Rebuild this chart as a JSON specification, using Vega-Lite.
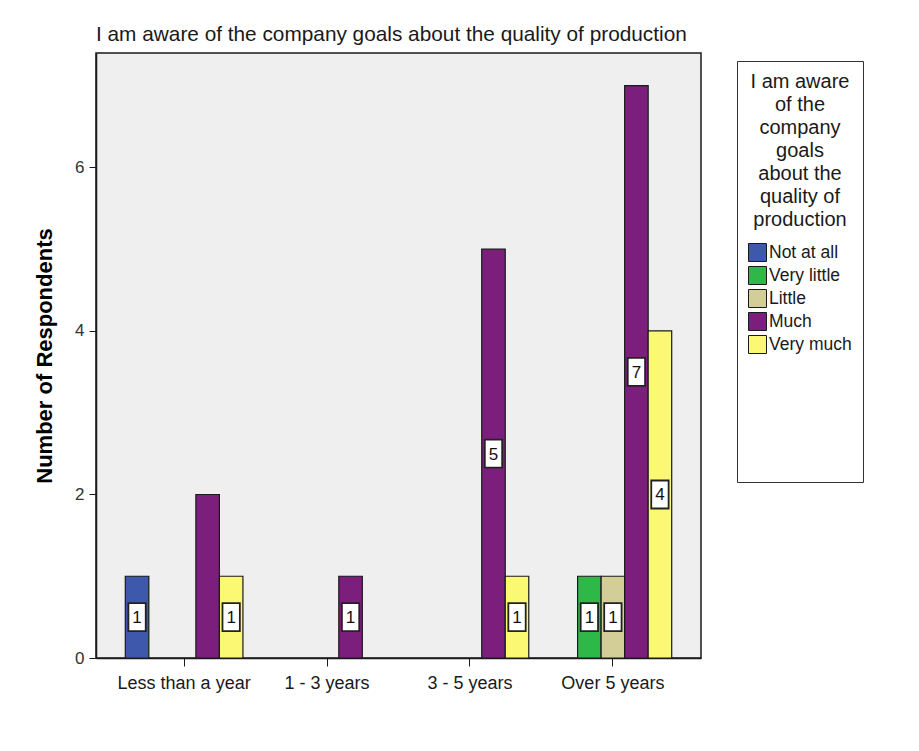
{
  "$schema": "https://vega.github.io/schema/vega-lite/v6.json",
  "autosize": {"type": "none"},
  "padding": {"left": 96, "top": 53, "right": 218, "bottom": 93},
  "width": 605,
  "height": 605,
  "background": "white",
  "title": {
    "text": "I am aware of the company goals about the quality of production",
    "anchor": "start",
    "frame": "group",
    "baseline": "alphabetic",
    "offset": 11,
    "dy": 20,
    "font": "Liberation Sans",
    "fontSize": 20.8,
    "fontWeight": "normal",
    "color": "#1a1a1a"
  },
  "config": {
    "font": "Liberation Sans",
    "view": {"fill": "#efefef", "stroke": "#1a1a1a", "strokeWidth": 1.5}
  },
  "data": {
    "values": [
      {"tenure": "Less than a year", "level": "Not at all", "count": 1},
      {"tenure": "Less than a year", "level": "Much", "count": 2},
      {"tenure": "Less than a year", "level": "Very much", "count": 1},
      {"tenure": "1 - 3 years", "level": "Much", "count": 1},
      {"tenure": "3 - 5 years", "level": "Much", "count": 5},
      {"tenure": "3 - 5 years", "level": "Very much", "count": 1},
      {"tenure": "Over 5 years", "level": "Very little", "count": 1},
      {"tenure": "Over 5 years", "level": "Little", "count": 1},
      {"tenure": "Over 5 years", "level": "Much", "count": 7},
      {"tenure": "Over 5 years", "level": "Very much", "count": 4}
    ]
  },
  "encoding": {
    "x": {
      "field": "tenure",
      "type": "nominal",
      "sort": ["Less than a year", "1 - 3 years", "3 - 5 years", "Over 5 years"],
      "scale": {"paddingInner": 0.177, "paddingOuter": 0.205},
      "axis": {
        "title": null,
        "labelAngle": 0,
        "labelFontSize": 18,
        "labelColor": "#1a1a1a",
        "labelPadding": 8,
        "tickSize": 8,
        "tickColor": "#1a1a1a",
        "domainColor": "#1a1a1a",
        "domainWidth": 1.5
      }
    },
    "xOffset": {
      "field": "level",
      "type": "nominal",
      "scale": {
        "domain": ["Not at all", "Very little", "Little", "Much", "Very much"],
        "paddingInner": 0,
        "paddingOuter": 0
      }
    }
  },
  "layer": [
    {
      "mark": {"type": "bar", "strokeWidth": 1.2},
      "encoding": {
        "y": {
          "field": "count",
          "type": "quantitative",
          "scale": {"domain": [0, 7.4], "nice": false},
          "axis": {
            "title": "Number of Respondents",
            "titleFontSize": 22,
            "titleFontWeight": "bold",
            "titleColor": "#000",
            "titlePadding": 18,
            "values": [0, 2, 4, 6],
            "grid": false,
            "labelFontSize": 17,
            "labelColor": "#333",
            "labelPadding": 5,
            "tickSize": 7,
            "tickColor": "#1a1a1a",
            "domainColor": "#1a1a1a",
            "domainWidth": 1.5
          }
        },
        "stroke": {
          "field": "level",
          "type": "nominal",
          "scale": {
            "domain": ["Not at all", "Very little", "Little", "Much", "Very much", "spacer1", "spacer2", "spacer3", "spacer4", "spacer5"],
            "range": ["#1a1a1a", "#1a1a1a", "#1a1a1a", "#1a1a1a", "#1a1a1a", "transparent", "transparent", "transparent", "transparent", "transparent"]
          }
        },
        "color": {
          "field": "level",
          "type": "nominal",
          "scale": {
            "domain": ["Not at all", "Very little", "Little", "Much", "Very much", "spacer1", "spacer2", "spacer3", "spacer4", "spacer5"],
            "range": ["#3e58ac", "#2eb848", "#d3ce97", "#7c1f7c", "#fbf873", "transparent", "transparent", "transparent", "transparent", "transparent"]
          },
          "legend": {
            "orient": "none",
            "legendX": 641,
            "legendY": 8,
            "title": ["I am aware", "of the", "company", "goals", "about the", "quality of", "production"],
            "titleFontSize": 20,
            "titleFontWeight": "normal",
            "titleColor": "#1a1a1a",
            "titleLineHeight": 23,
            "titleAlign": "center",
            "titleAnchor": "middle",
            "titlePadding": 13,
            "labelFontSize": 17.5,
            "labelColor": "#1a1a1a",
            "labelOffset": 2,
            "labelExpr": "indexof(['Not at all','Very little','Little','Much','Very much'], datum.label) >= 0 ? datum.label : ''",
            "symbolType": "square",
            "symbolSize": 324,
            "symbolStrokeWidth": 1,
            "rowPadding": 0,
            "padding": 11,
            "strokeColor": "#333",
            "fillColor": "white"
          }
        }
      }
    },
    {
      "transform": [
        {"filter": "!(datum.tenure === 'Less than a year' && datum.level === 'Much')"}
      ],
      "mark": {
        "type": "point",
        "shape": "M-0.62,-1L0.62,-1L0.62,1L-0.62,1Z",
        "size": 784,
        "filled": true,
        "fill": "white",
        "fillOpacity": 1,
        "stroke": "#222",
        "strokeWidth": 1.8,
        "opacity": 1
      },
      "encoding": {
        "y": {
          "field": "count",
          "type": "quantitative",
          "scale": {"domain": [0, 14.8], "nice": false},
          "axis": null
        }
      }
    },
    {
      "transform": [
        {"filter": "!(datum.tenure === 'Less than a year' && datum.level === 'Much')"}
      ],
      "mark": {
        "type": "text",
        "fontSize": 17,
        "color": "#111",
        "baseline": "middle",
        "align": "center",
        "dy": 1
      },
      "encoding": {
        "y": {
          "field": "count",
          "type": "quantitative",
          "scale": {"domain": [0, 14.8], "nice": false},
          "axis": null
        },
        "text": {"field": "count", "type": "quantitative"}
      }
    }
  ],
  "resolve": {"scale": {"y": "independent"}}
}
